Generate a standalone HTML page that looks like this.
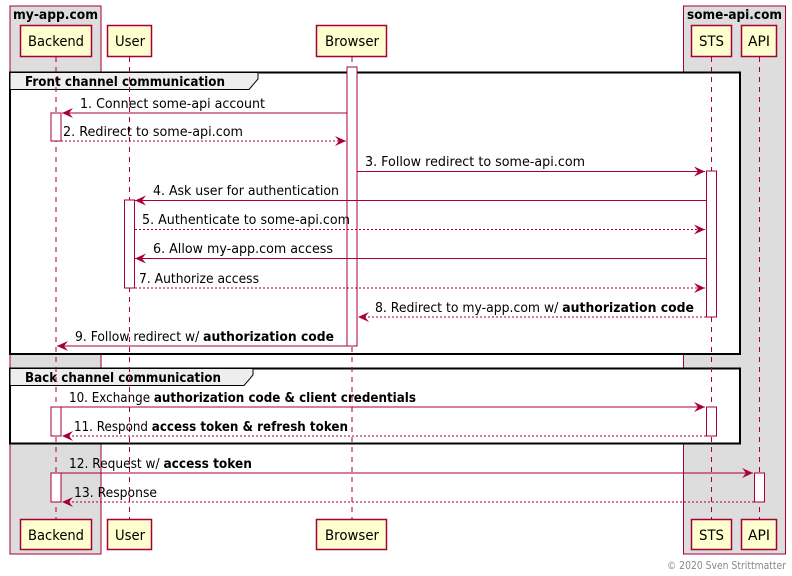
<!DOCTYPE html>
<html><head><meta charset="utf-8"><style>
html,body{margin:0;padding:0;background:#fff;}
svg{display:block;}
text{font-family:"DejaVu Sans","Liberation Sans",sans-serif;font-size:13px;fill:#000;}
.b{font-weight:bold;}
.p{font-size:14px;}
</style></head><body>
<svg width="792" height="576" viewBox="0 0 792 576" xmlns="http://www.w3.org/2000/svg">
<defs>
<marker id="ar" markerWidth="12" markerHeight="12" refX="11" refY="5" orient="auto" markerUnits="userSpaceOnUse">
<polygon points="0,0 11,5 0,10 4,5" fill="#A80036"/>
</marker>
</defs>
<rect x="10" y="6" width="91" height="548" fill="#DDDDDD" stroke="#A80036"/>
<text x="13" y="19" class="b" textLength="85" lengthAdjust="spacingAndGlyphs">my-app.com</text>
<rect x="683.5" y="6" width="102" height="548" fill="#DDDDDD" stroke="#A80036"/>
<text x="687" y="19" class="b" textLength="95" lengthAdjust="spacingAndGlyphs">some-api.com</text>

<rect x="10" y="72.5" width="730" height="281.5" fill="#fff" stroke="#000" stroke-width="2"/>
<polygon points="10,72.5 258,72.5 258,79 249,89.5 10,89.5" fill="#EEEEEE" stroke="#000" stroke-width="1"/>
<text x="25" y="86" class="b" textLength="200" lengthAdjust="spacingAndGlyphs">Front channel communication</text>
<rect x="10" y="368.5" width="730" height="75" fill="#fff" stroke="#000" stroke-width="2"/>
<polygon points="10,368.5 253,368.5 253,375 244,385.5 10,385.5" fill="#EEEEEE" stroke="#000" stroke-width="1"/>
<text x="25" y="382" class="b" textLength="196" lengthAdjust="spacingAndGlyphs">Back channel communication</text>

<g stroke="#A80036" stroke-dasharray="5,5" fill="none">
<line x1="56" y1="57" x2="56" y2="519"/>
<line x1="129.5" y1="57" x2="129.5" y2="519"/>
<line x1="352" y1="57" x2="352" y2="519"/>
<line x1="711.5" y1="57" x2="711.5" y2="519"/>
<line x1="759.5" y1="57" x2="759.5" y2="519"/>
</g>

<g fill="#fff" stroke="#A80036">
<rect x="347" y="67" width="10" height="279"/>
<rect x="51" y="113" width="10" height="28"/>
<rect x="706.5" y="171" width="10" height="146"/>
<rect x="124.5" y="200" width="10" height="88"/>
<rect x="51" y="407" width="10" height="29"/>
<rect x="706.5" y="407" width="10" height="29"/>
<rect x="51" y="473" width="10" height="29"/>
<rect x="754.5" y="473" width="10" height="29"/>
</g>

<g stroke="#A80036" fill="none" marker-end="url(#ar)">
<line x1="347" y1="113" x2="62" y2="113"/>
<line x1="61" y1="141" x2="346" y2="141" stroke-dasharray="2,2"/>
<line x1="357" y1="171.5" x2="705" y2="171.5"/>
<line x1="706" y1="200.5" x2="135" y2="200.5"/>
<line x1="135" y1="229.5" x2="705" y2="229.5" stroke-dasharray="2,2"/>
<line x1="706" y1="258.5" x2="135" y2="258.5"/>
<line x1="135" y1="288" x2="705" y2="288" stroke-dasharray="2,2"/>
<line x1="706" y1="317" x2="358" y2="317" stroke-dasharray="2,2"/>
<line x1="347" y1="346" x2="57" y2="346"/>
<line x1="61" y1="407" x2="705" y2="407"/>
<line x1="706" y1="436" x2="62" y2="436" stroke-dasharray="2,2"/>
<line x1="61" y1="473" x2="753" y2="473"/>
<line x1="754" y1="502" x2="62" y2="502" stroke-dasharray="2,2"/>
</g>

<text x="80" y="108" textLength="185" lengthAdjust="spacingAndGlyphs">1. Connect some-api account</text>
<text x="63" y="136" textLength="180" lengthAdjust="spacingAndGlyphs">2. Redirect to some-api.com</text>
<text x="365" y="166" textLength="220" lengthAdjust="spacingAndGlyphs">3. Follow redirect to some-api.com</text>
<text x="153" y="195" textLength="186" lengthAdjust="spacingAndGlyphs">4. Ask user for authentication</text>
<text x="142" y="224" textLength="208" lengthAdjust="spacingAndGlyphs">5. Authenticate to some-api.com</text>
<text x="153" y="253" textLength="180" lengthAdjust="spacingAndGlyphs">6. Allow my-app.com access</text>
<text x="139" y="283" textLength="120" lengthAdjust="spacingAndGlyphs">7. Authorize access</text>
<text x="375" y="312" textLength="319" lengthAdjust="spacingAndGlyphs">8. Redirect to my-app.com w/ <tspan class="b">authorization code</tspan></text>
<text x="75" y="341" textLength="259" lengthAdjust="spacingAndGlyphs">9. Follow redirect w/ <tspan class="b">authorization code</tspan></text>
<text x="69" y="402" textLength="347" lengthAdjust="spacingAndGlyphs">10. Exchange <tspan class="b">authorization code &amp; client credentials</tspan></text>
<text x="74" y="431" textLength="274" lengthAdjust="spacingAndGlyphs">11. Respond <tspan class="b">access token &amp; refresh token</tspan></text>
<text x="69" y="468" textLength="183" lengthAdjust="spacingAndGlyphs">12. Request w/ <tspan class="b">access token</tspan></text>
<text x="74" y="497" textLength="83" lengthAdjust="spacingAndGlyphs">13. Response</text>

<g fill="#FEFECE" stroke="#A80036" stroke-width="1.5">
<rect x="20.5" y="25.5" width="71" height="31"/>
<rect x="107.5" y="25.5" width="44" height="31"/>
<rect x="316.5" y="25.5" width="70" height="31"/>
<rect x="691.5" y="25.5" width="40" height="31"/>
<rect x="741.5" y="25.5" width="35" height="31"/>
<rect x="20.5" y="519.5" width="71" height="30"/>
<rect x="107.5" y="519.5" width="44" height="30"/>
<rect x="316.5" y="519.5" width="70" height="30"/>
<rect x="691.5" y="519.5" width="40" height="30"/>
<rect x="741.5" y="519.5" width="35" height="30"/>
</g>
<text class="p" x="28" y="46" textLength="56" lengthAdjust="spacingAndGlyphs">Backend</text>
<text class="p" x="115" y="46" textLength="30" lengthAdjust="spacingAndGlyphs">User</text>
<text class="p" x="325" y="46" textLength="54" lengthAdjust="spacingAndGlyphs">Browser</text>
<text class="p" x="699" y="46" textLength="25" lengthAdjust="spacingAndGlyphs">STS</text>
<text class="p" x="748" y="46" textLength="22" lengthAdjust="spacingAndGlyphs">API</text>
<text class="p" x="28" y="540" textLength="56" lengthAdjust="spacingAndGlyphs">Backend</text>
<text class="p" x="115" y="540" textLength="30" lengthAdjust="spacingAndGlyphs">User</text>
<text class="p" x="325" y="540" textLength="54" lengthAdjust="spacingAndGlyphs">Browser</text>
<text class="p" x="699" y="540" textLength="25" lengthAdjust="spacingAndGlyphs">STS</text>
<text class="p" x="748" y="540" textLength="22" lengthAdjust="spacingAndGlyphs">API</text>
<text x="667" y="569" style="font-size:11px;fill:#888" textLength="119" lengthAdjust="spacingAndGlyphs">© 2020 Sven Strittmatter</text>
</svg>
</body></html>
